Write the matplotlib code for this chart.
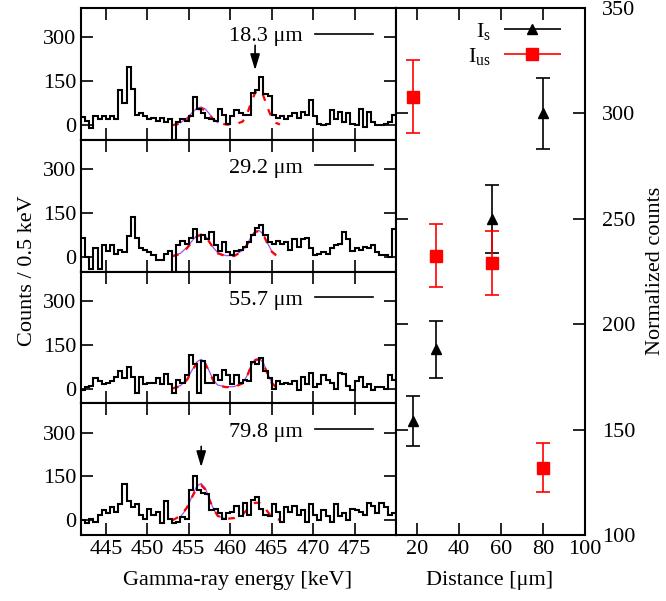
import numpy as np
import matplotlib
matplotlib.use("Agg")
import matplotlib.pyplot as plt
from matplotlib.legend_handler import HandlerErrorbar
from matplotlib.container import ErrorbarContainer

plt.rcParams["font.family"] = ["Liberation Serif", "DejaVu Serif"]
plt.rcParams["mathtext.fontset"] = "custom"
plt.rcParams["mathtext.rm"] = "Liberation Serif"
plt.rcParams["font.size"] = 16

# spectra: counts per 0.5 keV bin, 442-480 keV
bin_edges = np.arange(442.0, 480.01, 0.5)
distances_lbl = ["18.3 μm", "29.2 μm", "55.7 μm", "79.8 μm"]

counts_18 = [27, 15, -10, 30, 20, 30, 20, 30, 20, 120, 75, 200, 125, 35, 40,
             30, 20, 25, 15, 25, 10, 20, -60, 10, 20, 15, 30, 95, 55, 40,
             25, 20, 15, 55, 35, 5, 30, 50, 40, 35, 35, 110, 120, 165, 105,
             100, 35, 25, 30, 20, 30, 40, 25, 45, 35, 85, 30, 5, 0, 5,
             50, 20, 45, 10, 40, 5, 0, 55, -5, 45, 10, 0, 0, 5, 10, 35]
counts_29 = [65, 0, -40, 30, -40, 40, 20, 40, 10, 25, 15, 70, 135, 65, 30,
             25, 15, 5, -10, -10, 10, 20, -60, 40, 55, 45, 65, 95, 50, 75,
             60, 85, 40, 20, 50, 15, 5, 20, 25, 35, 50, 75, 100, 110, 75,
             50, 45, 55, 45, 50, 25, 60, 35, 60, 65, 30, 5, 10, 15, 10,
             30, 40, 45, 85, 60, 20, 30, 25, 35, 30, 40, 15, 5, 5, 0, 95]
counts_55 = [-5, 5, 10, 35, 25, 15, 20, 25, 40, 60, 35, 75, 40, -15, 40,
             15, 20, 20, 35, 15, 50, 15, -15, 30, 20, 45, 115, 85, -15, 95,
             20, 20, 45, 30, 65, 45, 15, 45, 20, 30, 25, 90, 85, 105, 60,
             35, 0, 25, 15, 20, 15, 25, -5, 40, 15, 55, 5, 15, 45, 30,
             20, 0, 55, 50, 10, -5, 25, 40, 5, 15, -5, 5, 5, 0, 45, 30]
counts_79 = [0, -10, 5, -5, 20, 35, 25, 45, 30, 55, 125, 65, 45, 55, 20,
             5, 40, 20, 30, -10, 65, 5, -10, -5, 10, 5, 105, 150, 105, 95,
             90, 35, 40, 25, 5, 25, 30, 50, 15, 60, 20, 70, 80, 40, 20,
             15, 55, 30, -5, 45, 30, 50, 20, 35, -5, 55, 20, 0, 35, 15,
             -5, 55, 15, 25, 0, 40, 35, 30, 20, 60, 50, 25, 60, 45, 20, 25]

# fit curves
fit_e = [453.0, 454.0, 454.8, 455.5, 456.0, 456.5, 457.0, 457.5, 458.0, 458.5,
         459.5, 460.5, 461.5, 462.0, 462.5, 463.0, 463.5, 464.0, 464.5, 465.0,
         465.5, 466.0]
fit_red_18 = [0, 5, 20, 40, 52, 57, 50, 35, 18, 8, 2, 2, 12, 35, 75, 110, 120,
              100, 60, 25, 8, 2]
fit_red_29 = [2, 10, 30, 55, 70, 75, 70, 50, 28, 12, 2, 3, 20, 40, 65, 85, 88,
              75, 45, 18, 6, 2]
fit_red_55 = [0, 8, 30, 65, 88, 97, 85, 55, 25, 10, 5, 5, 18, 40, 75, 97, 100,
              85, 50, 20, 5, 2]
fit_red_79 = [0, 15, 45, 85, 112, 120, 105, 70, 38, 15, 5, 8, 20, 35, 52, 60,
              60, 50, 30, 12, 5, 2]
nan = np.nan
fit_pur_18 = [nan, 8, 25, 45, 58, 62, 55, 38, 20, 8, nan, nan, nan, nan, nan,
              nan, nan, nan, nan, nan, nan, nan]
fit_pur_29 = [4, 12, 33, 58, 73, 78, 72, 52, 30, 14, 4, 5, 22, 42, 67, 87, 90,
              77, 47, 20, 8, nan]
fit_pur_55 = [2, 10, 33, 68, 92, 100, 88, 58, 27, 12, 6, 7, 20, 42, 78, 100,
              103, 88, 52, 22, 7, nan]
fit_pur_79 = [nan, 12, 42, 90, 118, 126, 110, 72, 38, 15, 5, nan, nan, nan,
              nan, nan, nan, nan, nan, nan, nan, nan]

# arrows (energy, tail, head)
arrows = {0: (463.0, 282, 178), 3: (456.5, 262, 172)}

# right panel: normalized counts vs distance
dist = [18.3, 29.2, 55.7, 79.8]
i_s = [154, 188, 250, 300]
i_s_err = [12, 13.5, 16, 17]
i_us = [308, 232.5, 229, 132]
i_us_err = [17.5, 15, 15, 11.5]

spectra = [counts_18, counts_29, counts_55, counts_79]
fits_red = [fit_red_18, fit_red_29, fit_red_55, fit_red_79]
fits_pur = [fit_pur_18, fit_pur_29, fit_pur_55, fit_pur_79]

W, H = 666, 601
fig = plt.figure(figsize=(W / 100, H / 100), dpi=100)

x0, x1, x2 = 81 / W, 396 / W, 585 / W
ytop, ybot = 1 - 8 / H, 1 - 535 / H
ph = (ytop - ybot) / 4

tick_kw = dict(direction="in", length=8.5, width=1.2, top=True, right=True)

for i in range(4):
    ax = fig.add_axes([x0, ytop - (i + 1) * ph, x1 - x0, ph])
    ax.plot(fit_e, fits_pur[i], color="#a050f0", lw=0.9, zorder=2)
    ax.plot(fit_e, fits_red[i], color="red", lw=1.6, ls=(0, (3, 4)), zorder=3)
    ax.stairs(spectra[i], bin_edges, baseline=None, color="black", lw=1.5, zorder=4)
    ax.set_xlim(442, 480)
    ax.set_ylim(-50, 400)
    ax.set_yticks([0, 150, 300])
    ax.set_xticks([445, 450, 455, 460, 465, 470, 475])
    ax.tick_params(**tick_kw, labelsize=16)
    if i < 3:
        ax.tick_params(labelbottom=False)
    for s in ax.spines.values():
        s.set_linewidth(1.5)
    if i in arrows:
        e, tail, head = arrows[i]
        ax.annotate("", xy=(e, head), xytext=(e, tail),
                    arrowprops=dict(arrowstyle="-|>,head_width=0.18,head_length=0.6",
                                    color="black", lw=1.2))
    ax.plot([], [], color="black", lw=1.2, label=distances_lbl[i])
    ax.legend(loc="center right", frameon=False, markerfirst=False,
              handlelength=2.6, borderaxespad=0, borderpad=0,
              handletextpad=0.55, fontsize=16,
              bbox_to_anchor=(0.927, 0.787))

axr = fig.add_axes([x1, ybot, x2 - x1, ytop - ybot])
axr.errorbar(dist, i_s, yerr=i_s_err, fmt="^", color="black", ms=7,
             capsize=5, elinewidth=1.2, capthick=1.2, zorder=3)
axr.errorbar(dist, i_us, yerr=i_us_err, fmt="s", color="red", ms=8,
             capsize=5, elinewidth=1.2, capthick=1.2, zorder=3)
h_s = axr.errorbar([], [], xerr=[], fmt="^", color="black", ms=7,
                   capsize=4, elinewidth=1.2)
h_us = axr.errorbar([], [], xerr=[], fmt="s", color="red", ms=8,
                    capsize=4, elinewidth=1.2)
axr.legend([h_s, h_us], [r"I$_{\rm s}$", r"I$_{\rm us}$"], loc="center right",
           frameon=False, markerfirst=False, handlelength=2.65, fontsize=16,
           handletextpad=0.55, labelspacing=0.15, borderaxespad=0,
           borderpad=0, bbox_to_anchor=(0.878, 0.931),
           handler_map={ErrorbarContainer: HandlerErrorbar(xerr_size=1.3)})
axr.set_xlim(10, 100)
axr.set_ylim(100, 350)
axr.set_xticks([20, 40, 60, 80, 100])
axr.set_yticks([100, 150, 200, 250, 300, 350])
axr.yaxis.tick_right()
axr.tick_params(**tick_kw, left=True, labelleft=False, labelright=True,
                labelsize=16)
axr.tick_params(axis="y", pad=12)
for s in axr.spines.values():
    s.set_linewidth(1.5)

fig.text(28 / W, 1 - 271 / H, "Counts / 0.5 keV", rotation=90,
         ha="center", va="center", fontsize=16)
fig.text(238 / W, 1 - 580 / H, "Gamma-ray energy [keV]", ha="center",
         va="center", fontsize=16)
fig.text(490 / W, 1 - 580 / H, "Distance [μm]", ha="center", va="center",
         fontsize=16)
fig.text(655 / W, 1 - 271 / H, "Normalized counts", rotation=90,
         ha="center", va="center", fontsize=16)

fig.savefig("out.png", dpi=100)
